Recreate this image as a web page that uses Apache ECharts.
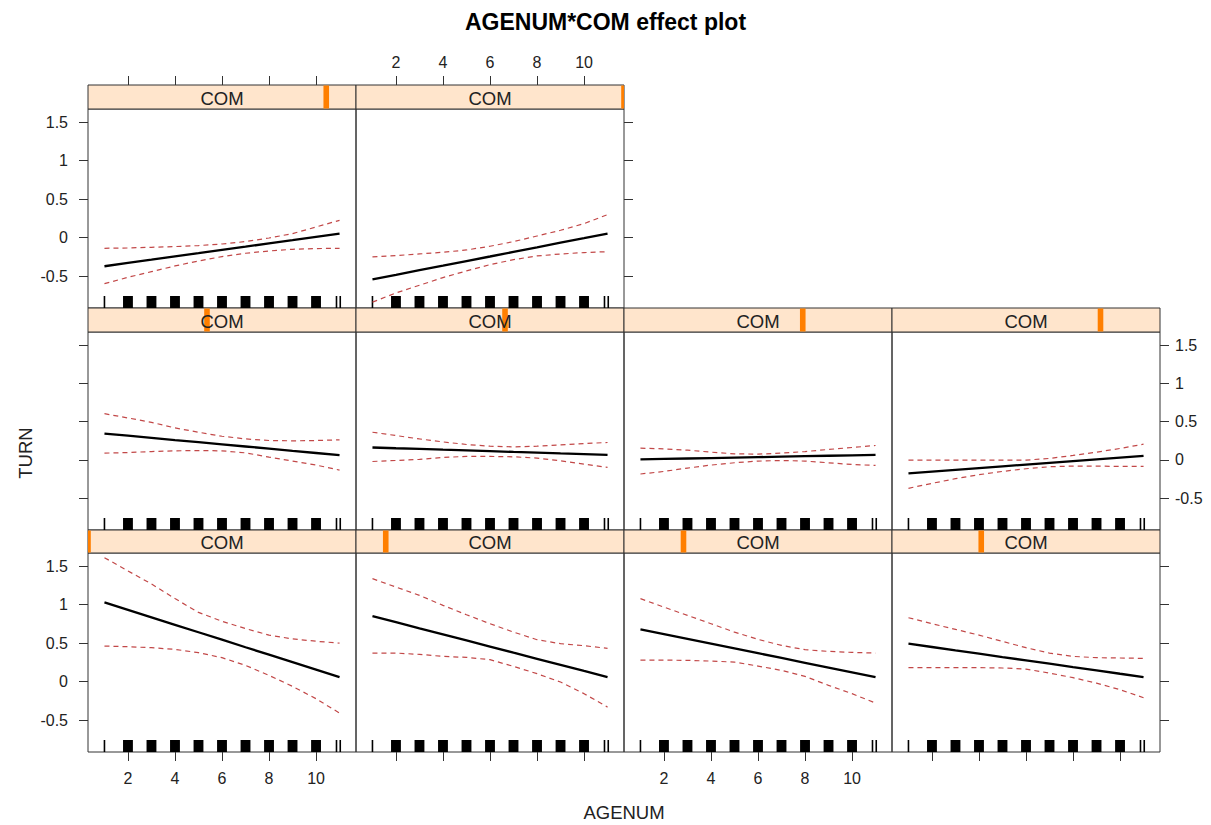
<!DOCTYPE html>
<html>
<head>
<meta charset="utf-8">
<script src="https://cdn.jsdelivr.net/npm/echarts@6/dist/echarts.min.js"></script>
<style>
html,body{margin:0;padding:0;background:#ffffff;}
#chart{width:1211px;height:825px;}
</style>
</head>
<body>
<div id="chart"></div>
<script>
// ---------------- data ----------------
const agenum = [1, 2, 3, 4, 5, 6, 7, 8, 9, 10, 11];
const comLevels = [0, 0.111, 0.222, 0.333, 0.444, 0.556, 0.667, 0.778, 0.889, 1.0]; // relative COM position in its range
const yTicks = [-0.5, 0, 0.5, 1, 1.5];
const xTicks = [2, 4, 6, 8, 10];
const rugSingles = [1, 10.87, 11.03];
const rugClusters = [2, 3, 4, 5, 6, 7, 8, 9, 10];
const rugJitter = 0.21;

// panel 1 = bottom-left ... panel 10 = top row, second column (lattice order)
const fit1   = [1.030, 0.933, 0.836, 0.739, 0.642, 0.545, 0.447, 0.350, 0.253, 0.156, 0.059];
const upper1 = [1.612, 1.440, 1.270, 1.080, 0.900, 0.785, 0.690, 0.605, 0.555, 0.525, 0.500];
const lower1 = [0.462, 0.454, 0.441, 0.419, 0.376, 0.311, 0.211, 0.081, -0.062, -0.223, -0.410];

const fit2   = [0.852, 0.773, 0.693, 0.614, 0.535, 0.456, 0.376, 0.297, 0.218, 0.138, 0.059];
const upper2 = [1.339, 1.230, 1.122, 0.992, 0.870, 0.753, 0.644, 0.545, 0.493, 0.467, 0.432];
const lower2 = [0.371, 0.371, 0.354, 0.328, 0.315, 0.285, 0.198, 0.103, -0.006, -0.157, -0.332];

const fit3   = [0.679, 0.617, 0.555, 0.493, 0.431, 0.369, 0.307, 0.245, 0.183, 0.121, 0.059];
const upper3 = [1.079, 0.969, 0.861, 0.753, 0.644, 0.549, 0.471, 0.415, 0.393, 0.380, 0.371];
const lower3 = [0.280, 0.280, 0.276, 0.267, 0.254, 0.202, 0.146, 0.068, -0.049, -0.157, -0.280];

const fit4   = [0.493, 0.450, 0.406, 0.363, 0.319, 0.276, 0.233, 0.189, 0.146, 0.102, 0.059];
const upper4 = [0.831, 0.753, 0.679, 0.605, 0.523, 0.441, 0.371, 0.328, 0.311, 0.307, 0.302];
const lower4 = [0.181, 0.181, 0.181, 0.181, 0.177, 0.163, 0.111, 0.051, -0.020, -0.105, -0.210];

const fit5   = [0.345, 0.317, 0.289, 0.260, 0.232, 0.204, 0.176, 0.148, 0.119, 0.091, 0.063];
const upper5 = [0.605, 0.549, 0.492, 0.419, 0.362, 0.310, 0.275, 0.254, 0.250, 0.254, 0.263];
const lower5 = [0.089, 0.097, 0.110, 0.119, 0.123, 0.119, 0.093, 0.037, -0.015, -0.067, -0.132];

const fit6   = [0.163, 0.153, 0.144, 0.134, 0.125, 0.115, 0.105, 0.096, 0.086, 0.077, 0.067];
const upper6 = [0.362, 0.319, 0.275, 0.236, 0.202, 0.180, 0.171, 0.180, 0.197, 0.215, 0.228];
const lower6 = [-0.020, -0.007, 0.007, 0.033, 0.046, 0.046, 0.041, 0.024, -0.011, -0.054, -0.098];

const fit7   = [0.007, 0.013, 0.019, 0.025, 0.031, 0.037, 0.043, 0.049, 0.055, 0.061, 0.067];
const upper7 = [0.154, 0.145, 0.128, 0.102, 0.080, 0.076, 0.089, 0.110, 0.137, 0.163, 0.189];
const lower7 = [-0.184, -0.150, -0.106, -0.067, -0.037, -0.015, -0.007, -0.015, -0.037, -0.059, -0.072];

const fit8   = [-0.176, -0.153, -0.130, -0.107, -0.084, -0.061, -0.038, -0.015, 0.008, 0.031, 0.054];
const upper8 = [-0.002, -0.002, -0.002, -0.002, -0.002, -0.002, 0.020, 0.059, 0.102, 0.150, 0.206];
const lower8 = [-0.371, -0.306, -0.245, -0.193, -0.150, -0.115, -0.089, -0.080, -0.080, -0.085, -0.085];

const fit9   = [-0.373, -0.330, -0.288, -0.245, -0.203, -0.160, -0.118, -0.075, -0.033, 0.010, 0.052];
const upper9 = [-0.139, -0.135, -0.126, -0.117, -0.104, -0.083, -0.052, -0.005, 0.052, 0.138, 0.225];
const lower9 = [-0.599, -0.517, -0.443, -0.369, -0.304, -0.247, -0.204, -0.174, -0.152, -0.143, -0.139];

const fit10   = [-0.543, -0.484, -0.424, -0.365, -0.305, -0.246, -0.186, -0.127, -0.067, -0.008, 0.052];
const upper10 = [-0.252, -0.234, -0.213, -0.191, -0.161, -0.113, -0.052, 0.021, 0.095, 0.182, 0.299];
const lower10 = [-0.840, -0.720, -0.620, -0.520, -0.434, -0.352, -0.287, -0.239, -0.213, -0.195, -0.183];

// ---------------- layout / style ----------------
const FONT = '"Liberation Sans", Arial, Helvetica, sans-serif';
const TXT = '#222222';
const colLeft = [88, 356, 624, 892];
const panelW = 268;
const plotTop = [553, 332, 109];   // rows from bottom
const plotH = [199, 198, 199];
const stripH = [23, 24, 24];
const yMin = -0.916, yMax = 1.673;
const xMin = 0.3, xMax = 11.7;

const panels = [
  {fit: fit1, upper: upper1, lower: lower1},
  {fit: fit2, upper: upper2, lower: lower2},
  {fit: fit3, upper: upper3, lower: lower3},
  {fit: fit4, upper: upper4, lower: lower4},
  {fit: fit5, upper: upper5, lower: lower5},
  {fit: fit6, upper: upper6, lower: lower6},
  {fit: fit7, upper: upper7, lower: lower7},
  {fit: fit8, upper: upper8, lower: lower8},
  {fit: fit9, upper: upper9, lower: lower9},
  {fit: fit10, upper: upper10, lower: lower10}
];

const grids = [], xAxes = [], yAxes = [], series = [];
const zip = arr => agenum.map((x, k) => [x, arr[k]]);

function rugRender(params, api) {
  const cs = params.coordSys;
  const v = api.value(0);
  const cluster = api.value(1) === 1;
  const bottom = cs.y + cs.height;
  let x0, x1;
  if (cluster) {
    x0 = api.coord([v - rugJitter, 0])[0];
    x1 = api.coord([v + rugJitter, 0])[0];
  } else {
    const cx = api.coord([v, 0])[0];
    x0 = cx - 0.8; x1 = cx + 0.8;
  }
  return {type: 'rect', shape: {x: x0, y: bottom - 12, width: x1 - x0, height: 12}, style: {fill: '#000000'}};
}

function stripRender(params, api) {
  const cs = params.coordSys;
  const cx = api.coord([api.value(0), 0])[0];
  const x0 = Math.max(cs.x, cx - 2.8);
  const x1 = Math.min(cs.x + cs.width, cx + 2.8);
  return {
    type: 'group',
    children: [
      {type: 'rect', shape: {x: x0, y: cs.y + 0.5, width: x1 - x0, height: cs.height - 1}, style: {fill: '#FF7F00'}},
      {type: 'text', style: {text: 'COM', x: cs.x + cs.width / 2, y: cs.y + cs.height / 2 + 1,
        align: 'center', verticalAlign: 'middle', fill: TXT, fontSize: 18.5, fontFamily: FONT}}
    ]
  };
}

panels.forEach((p, i) => {
  const r = Math.floor(i / 4), c = i % 4;
  grids.push({left: colLeft[c], top: plotTop[r], width: panelW, height: plotH[r],
    show: true, borderColor: '#333333', borderWidth: 1, backgroundColor: 'transparent',
    outerBoundsMode: 'none'});
  const gi = grids.length - 1;

  let xa = {type: 'value', gridIndex: gi, min: xMin, max: xMax, show: false,
    axisLine: {show: false, onZero: false}, splitLine: {show: false}};
  if (r === 0 || r === 2) {
    const showLab = (r === 0 && (c === 0 || c === 2)) || (r === 2 && c === 1);
    xa = {type: 'value', gridIndex: gi, min: xMin, max: xMax, show: true,
      position: r === 0 ? 'bottom' : 'top',
      offset: r === 2 ? stripH[r] : 0,
      axisLine: {show: false, onZero: false},
      axisTick: {show: true, length: 9, customValues: xTicks, lineStyle: {color: '#333333', width: 1}},
      axisLabel: {show: showLab, customValues: xTicks, margin: r === 0 ? 18 : 15,
        fontSize: 16, color: TXT, fontFamily: FONT},
      splitLine: {show: false}};
  }
  xAxes.push(xa);

  let ya = {type: 'value', gridIndex: gi, min: yMin, max: yMax, show: false,
    axisLine: {show: false, onZero: false}, splitLine: {show: false}};
  let pos = null, lab = false;
  if (c === 0) { pos = 'left'; lab = (r !== 1); }
  else if (r === 2 && c === 1) { pos = 'right'; lab = false; }
  else if (c === 3 && r === 1) { pos = 'right'; lab = true; }
  else if (c === 3 && r === 0) { pos = 'right'; lab = false; }
  if (pos) {
    ya = {type: 'value', gridIndex: gi, min: yMin, max: yMax, show: true, position: pos,
      axisLine: {show: false, onZero: false},
      axisTick: {show: true, length: 9, customValues: yTicks, lineStyle: {color: '#333333', width: 1}},
      axisLabel: {show: lab, customValues: yTicks, margin: pos === 'left' ? 20 : 15,
        fontSize: 16, color: TXT, fontFamily: FONT},
      splitLine: {show: false}};
  }
  yAxes.push(ya);

  const dash = {color: '#C24848', width: 1.2, type: [5, 4]};
  series.push({type: 'line', xAxisIndex: gi, yAxisIndex: gi, data: zip(p.upper), showSymbol: false,
    lineStyle: dash, silent: true, z: 3});
  series.push({type: 'line', xAxisIndex: gi, yAxisIndex: gi, data: zip(p.lower), showSymbol: false,
    lineStyle: dash, silent: true, z: 3});
  series.push({type: 'line', xAxisIndex: gi, yAxisIndex: gi, data: zip(p.fit), showSymbol: false,
    lineStyle: {color: '#000000', width: 2.3}, silent: true, z: 4});
  series.push({type: 'custom', xAxisIndex: gi, yAxisIndex: gi, renderItem: rugRender,
    data: rugClusters.map(v => [v, 1]).concat(rugSingles.map(v => [v, 0])),
    encode: {x: 0, y: 1}, silent: true, z: 2});
});

panels.forEach((p, i) => {
  const r = Math.floor(i / 4), c = i % 4;
  grids.push({left: colLeft[c], top: plotTop[r] - stripH[r], width: panelW, height: stripH[r],
    show: true, borderColor: '#333333', borderWidth: 1, backgroundColor: '#FFE5CC',
    outerBoundsMode: 'none'});
  const gi = grids.length - 1;
  xAxes.push({type: 'value', gridIndex: gi, min: 0, max: 1, show: false,
    axisLine: {show: false, onZero: false}, splitLine: {show: false}});
  yAxes.push({type: 'value', gridIndex: gi, min: 0, max: 1, show: false,
    axisLine: {show: false, onZero: false}, splitLine: {show: false}});
  series.push({type: 'custom', xAxisIndex: gi, yAxisIndex: gi, renderItem: stripRender,
    data: [[comLevels[i], 0.5]], encode: {x: 0, y: 1}, silent: true, z: 5});
});

const option = {
  animation: false,
  backgroundColor: '#ffffff',
  title: {text: 'AGENUM*COM effect plot', left: 'center', top: 5,
    textStyle: {fontSize: 23, fontWeight: 'bold', color: '#000000', fontFamily: FONT}},
  grid: grids,
  xAxis: xAxes,
  yAxis: yAxes,
  series: series,
  graphic: [
    {type: 'text', x: 624, y: 812, silent: true,
      style: {text: 'AGENUM', align: 'center', verticalAlign: 'middle', fontSize: 18.5, fill: TXT, fontFamily: FONT}},
    {type: 'text', x: 25, y: 453, rotation: Math.PI / 2, silent: true,
      style: {text: 'TURN', align: 'center', verticalAlign: 'middle', fontSize: 18.5, fill: TXT, fontFamily: FONT}}
  ]
};

const chart = echarts.init(document.getElementById('chart'), null, {renderer: 'svg', width: 1211, height: 825});
chart.setOption(option);
</script>
</body>
</html>
